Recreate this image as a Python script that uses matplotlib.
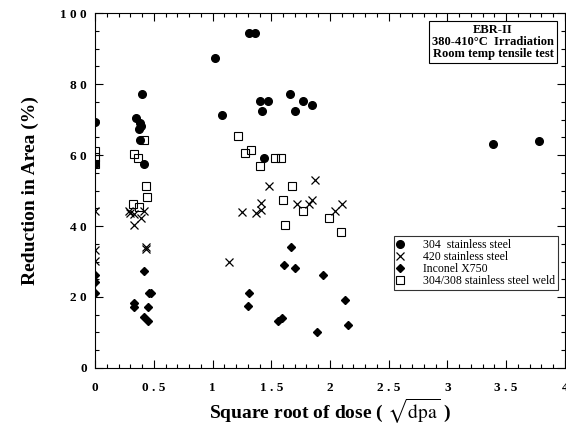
import matplotlib
matplotlib.use("Agg")
from matplotlib import pyplot as plt
from matplotlib.ticker import MultipleLocator, FuncFormatter

plt.rcParams['font.family'] = ['Liberation Serif', 'DejaVu Serif']
plt.rcParams['mathtext.fontset'] = 'stix'

# 304 stainless steel
ss304_x = [0, 0.40, 0.35, 0.38, 0.39, 0.37, 0.38, 0.415, 0, 1.02, 1.08, 1.31, 1.36,
           1.40, 1.47, 1.42, 1.44, 1.66, 1.70, 1.77, 1.85, 3.39, 3.78]
ss304_y = [69.3, 77.3, 70.3, 68.9, 68.2, 67.3, 64.2, 57.4, 57.4, 87.4, 71.2, 94.3, 94.3,
           75.3, 75.3, 72.3, 59.2, 77.2, 72.3, 75.3, 74.2, 63.1, 64.0]

# 420 stainless steel
ss420_x = [0, 0, 0, 0.29, 0.30, 0.33, 0.42, 0.39, 0.335, 0.43, 0.43, 1.14, 1.25, 1.37,
           1.41, 1.41, 1.48, 1.72, 1.82, 1.85, 1.87, 2.04, 2.10]
ss420_y = [44.2, 33.2, 30.2, 44.2, 43.8, 43.3, 44.2, 42.3, 40.3, 34.2, 33.4, 29.9, 44.0, 43.8,
           44.4, 46.4, 51.2, 46.3, 46.3, 47.2, 53.1, 44.2, 46.3]

# Inconel X750
inc_x = [0, 0, 0, 0.42, 0.46, 0.48, 0.335, 0.335, 0.45, 0.42, 0.45, 1.31, 1.30, 1.56,
         1.59, 1.61, 1.67, 1.70, 1.89, 1.94, 2.13, 2.15]
inc_y = [26.2, 24.2, 21.2, 27.3, 21.2, 21.2, 18.3, 17.3, 17.2, 14.4, 13.1, 21.2, 17.5, 13.1,
         14.2, 29.1, 34.2, 28.2, 10.0, 26.1, 19.2, 12.1]

# 304/308 stainless steel weld
weld_x = [0, 0, 0, 0.42, 0.335, 0.364, 0.43, 0.44, 0.32, 0.377, 1.22, 1.33, 1.28, 1.53,
          1.58, 1.40, 1.68, 1.60, 1.77, 1.99, 2.09, 1.62]
weld_y = [61.2, 59.4, 57.4, 64.2, 60.3, 59.2, 51.3, 48.3, 46.3, 45.3, 65.4, 61.5, 60.6, 59.2,
          59.2, 56.9, 51.2, 47.2, 44.2, 42.3, 38.2, 40.3]

fig = plt.figure(figsize=(5.66, 4.37), dpi=100)
ax = fig.add_axes([0.168, 0.158, 0.830, 0.812])

ax.plot(ss304_x, ss304_y, 'o', color='black', markersize=5.5, label='304  stainless steel')
ax.plot(ss420_x, ss420_y, 'x', color='black', markersize=5.5, markeredgewidth=0.9,
        label='420 stainless steel')
ax.plot(inc_x, inc_y, 'D', color='black', markersize=3.8, label='Inconel X750')
ax.plot(weld_x, weld_y, 's', markerfacecolor='none', markeredgecolor='black',
        markersize=5.5, markeredgewidth=0.8, label='304/308 stainless steel weld')

ax.set_xlim(0, 4)
ax.set_ylim(0, 100)
ax.xaxis.set_major_locator(MultipleLocator(0.5))
ax.xaxis.set_minor_locator(MultipleLocator(0.1))
ax.yaxis.set_major_locator(MultipleLocator(20))
ax.yaxis.set_minor_locator(MultipleLocator(5))

# spaced-out tick labels like the original
def spaced(v, pos):
    s = ('%g' % v)
    return ' '.join(s) if len(s) > 1 else s

ax.xaxis.set_major_formatter(FuncFormatter(spaced))
ax.yaxis.set_major_formatter(FuncFormatter(spaced))

ax.tick_params(which='both', direction='in', top=True, right=True, width=0.8)
ax.tick_params(which='major', length=6, labelsize=9.5)
ax.tick_params(axis='x', which='major', pad=10)
ax.tick_params(axis='y', which='major', pad=6)
ax.tick_params(which='minor', length=3)
for lbl in ax.get_xticklabels() + ax.get_yticklabels():
    lbl.set_fontweight('bold')
for sp in ax.spines.values():
    sp.set_linewidth(0.8)

ax.set_ylabel('Reduction in Area (%)', fontsize=14, fontweight='bold')
ax.yaxis.set_label_coords(-0.12, 0.5)
ax.set_xlabel(r'Square root of dose ( $\sqrt{\mathrm{dpa}}$ )', fontsize=14,
              fontweight='bold', labelpad=2)

ax.text(0.847, 0.969, 'EBR-II\n380-410°C  Irradiation\nRoom temp tensile test',
        transform=ax.transAxes, ha='center', va='top', fontsize=9, fontweight='bold',
        linespacing=1.0,
        bbox=dict(boxstyle='square,pad=0.25', facecolor='white', edgecolor='black', linewidth=0.8))

leg = ax.legend(loc='upper right', bbox_to_anchor=(0.985, 0.372), fontsize=8.5,
                frameon=True, fancybox=False, edgecolor='black', handlelength=0.6,
                handletextpad=1.6, borderpad=0.25, labelspacing=0.0, borderaxespad=0)
leg.get_frame().set_linewidth(0.8)

fig.savefig('out.png', dpi=100)
